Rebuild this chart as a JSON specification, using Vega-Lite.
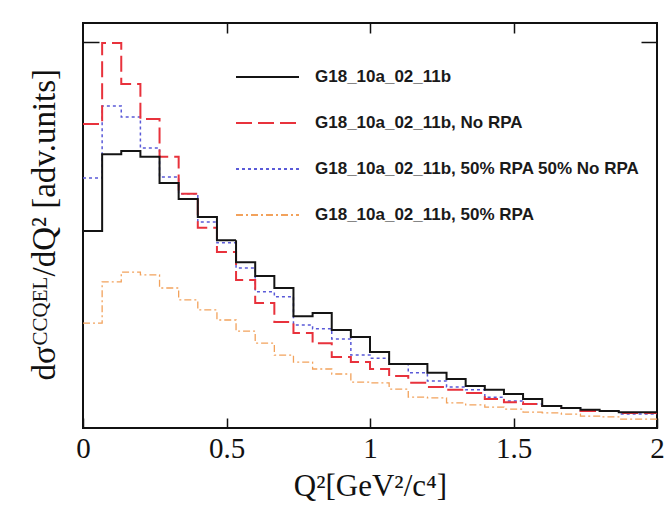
{
  "$schema": "https://vega.github.io/schema/vega-lite/v6.json",
  "width": 574,
  "height": 405,
  "autosize": "none",
  "padding": {"left": 83, "top": 23, "right": 15, "bottom": 80},
  "background": "white",
  "config": {
    "view": {"stroke": "#111111", "strokeWidth": 2},
    "axis": {"grid": false, "domain": false}
  },
  "datasets": {
    "hist": [
      {"series": "G18_10a_02_11b", "bin": 0, "lo": 0, "hi": 0.0667, "v": 0.511},
      {"series": "G18_10a_02_11b", "bin": 1, "lo": 0.0667, "hi": 0.1333, "v": 0.71},
      {"series": "G18_10a_02_11b", "bin": 2, "lo": 0.1333, "hi": 0.2, "v": 0.718},
      {"series": "G18_10a_02_11b", "bin": 3, "lo": 0.2, "hi": 0.2667, "v": 0.703},
      {"series": "G18_10a_02_11b", "bin": 4, "lo": 0.2667, "hi": 0.3333, "v": 0.635},
      {"series": "G18_10a_02_11b", "bin": 5, "lo": 0.3333, "hi": 0.4, "v": 0.594},
      {"series": "G18_10a_02_11b", "bin": 6, "lo": 0.4, "hi": 0.4667, "v": 0.547},
      {"series": "G18_10a_02_11b", "bin": 7, "lo": 0.4667, "hi": 0.5333, "v": 0.487},
      {"series": "G18_10a_02_11b", "bin": 8, "lo": 0.5333, "hi": 0.6, "v": 0.43},
      {"series": "G18_10a_02_11b", "bin": 9, "lo": 0.6, "hi": 0.6667, "v": 0.394},
      {"series": "G18_10a_02_11b", "bin": 10, "lo": 0.6667, "hi": 0.7333, "v": 0.363},
      {"series": "G18_10a_02_11b", "bin": 11, "lo": 0.7333, "hi": 0.8, "v": 0.29},
      {"series": "G18_10a_02_11b", "bin": 12, "lo": 0.8, "hi": 0.8667, "v": 0.298},
      {"series": "G18_10a_02_11b", "bin": 13, "lo": 0.8667, "hi": 0.9333, "v": 0.254},
      {"series": "G18_10a_02_11b", "bin": 14, "lo": 0.9333, "hi": 1, "v": 0.236},
      {"series": "G18_10a_02_11b", "bin": 15, "lo": 1, "hi": 1.0667, "v": 0.197},
      {"series": "G18_10a_02_11b", "bin": 16, "lo": 1.0667, "hi": 1.1333, "v": 0.166},
      {"series": "G18_10a_02_11b", "bin": 17, "lo": 1.1333, "hi": 1.2, "v": 0.166},
      {"series": "G18_10a_02_11b", "bin": 18, "lo": 1.2, "hi": 1.2667, "v": 0.143},
      {"series": "G18_10a_02_11b", "bin": 19, "lo": 1.2667, "hi": 1.3333, "v": 0.127},
      {"series": "G18_10a_02_11b", "bin": 20, "lo": 1.3333, "hi": 1.4, "v": 0.109},
      {"series": "G18_10a_02_11b", "bin": 21, "lo": 1.4, "hi": 1.4667, "v": 0.099},
      {"series": "G18_10a_02_11b", "bin": 22, "lo": 1.4667, "hi": 1.5333, "v": 0.088},
      {"series": "G18_10a_02_11b", "bin": 23, "lo": 1.5333, "hi": 1.6, "v": 0.075},
      {"series": "G18_10a_02_11b", "bin": 24, "lo": 1.6, "hi": 1.6667, "v": 0.057},
      {"series": "G18_10a_02_11b", "bin": 25, "lo": 1.6667, "hi": 1.7333, "v": 0.052},
      {"series": "G18_10a_02_11b", "bin": 26, "lo": 1.7333, "hi": 1.8, "v": 0.047},
      {"series": "G18_10a_02_11b", "bin": 27, "lo": 1.8, "hi": 1.8667, "v": 0.044},
      {"series": "G18_10a_02_11b", "bin": 28, "lo": 1.8667, "hi": 1.9333, "v": 0.041},
      {"series": "G18_10a_02_11b", "bin": 29, "lo": 1.9333, "hi": 2, "v": 0.041},

      {"series": "G18_10a_02_11b, No RPA", "bin": 0, "lo": 0, "hi": 0.0667, "v": 0.788},
      {"series": "G18_10a_02_11b, No RPA", "bin": 1, "lo": 0.0667, "hi": 0.1333, "v": 0.998},
      {"series": "G18_10a_02_11b, No RPA", "bin": 2, "lo": 0.1333, "hi": 0.2, "v": 0.892},
      {"series": "G18_10a_02_11b, No RPA", "bin": 3, "lo": 0.2, "hi": 0.2667, "v": 0.801},
      {"series": "G18_10a_02_11b, No RPA", "bin": 4, "lo": 0.2667, "hi": 0.3333, "v": 0.703},
      {"series": "G18_10a_02_11b, No RPA", "bin": 5, "lo": 0.3333, "hi": 0.4, "v": 0.607},
      {"series": "G18_10a_02_11b, No RPA", "bin": 6, "lo": 0.4, "hi": 0.4667, "v": 0.519},
      {"series": "G18_10a_02_11b, No RPA", "bin": 7, "lo": 0.4667, "hi": 0.5333, "v": 0.456},
      {"series": "G18_10a_02_11b, No RPA", "bin": 8, "lo": 0.5333, "hi": 0.6, "v": 0.384},
      {"series": "G18_10a_02_11b, No RPA", "bin": 9, "lo": 0.6, "hi": 0.6667, "v": 0.324},
      {"series": "G18_10a_02_11b, No RPA", "bin": 10, "lo": 0.6667, "hi": 0.7333, "v": 0.275},
      {"series": "G18_10a_02_11b, No RPA", "bin": 11, "lo": 0.7333, "hi": 0.8, "v": 0.246},
      {"series": "G18_10a_02_11b, No RPA", "bin": 12, "lo": 0.8, "hi": 0.8667, "v": 0.22},
      {"series": "G18_10a_02_11b, No RPA", "bin": 13, "lo": 0.8667, "hi": 0.9333, "v": 0.184},
      {"series": "G18_10a_02_11b, No RPA", "bin": 14, "lo": 0.9333, "hi": 1, "v": 0.171},
      {"series": "G18_10a_02_11b, No RPA", "bin": 15, "lo": 1, "hi": 1.0667, "v": 0.153},
      {"series": "G18_10a_02_11b, No RPA", "bin": 16, "lo": 1.0667, "hi": 1.1333, "v": 0.135},
      {"series": "G18_10a_02_11b, No RPA", "bin": 17, "lo": 1.1333, "hi": 1.2, "v": 0.117},
      {"series": "G18_10a_02_11b, No RPA", "bin": 18, "lo": 1.2, "hi": 1.2667, "v": 0.106},
      {"series": "G18_10a_02_11b, No RPA", "bin": 19, "lo": 1.2667, "hi": 1.3333, "v": 0.099},
      {"series": "G18_10a_02_11b, No RPA", "bin": 20, "lo": 1.3333, "hi": 1.4, "v": 0.091},
      {"series": "G18_10a_02_11b, No RPA", "bin": 21, "lo": 1.4, "hi": 1.4667, "v": 0.075},
      {"series": "G18_10a_02_11b, No RPA", "bin": 22, "lo": 1.4667, "hi": 1.5333, "v": 0.067},
      {"series": "G18_10a_02_11b, No RPA", "bin": 23, "lo": 1.5333, "hi": 1.6, "v": 0.062},
      {"series": "G18_10a_02_11b, No RPA", "bin": 24, "lo": 1.6, "hi": 1.6667, "v": 0.057},
      {"series": "G18_10a_02_11b, No RPA", "bin": 25, "lo": 1.6667, "hi": 1.7333, "v": 0.052},
      {"series": "G18_10a_02_11b, No RPA", "bin": 26, "lo": 1.7333, "hi": 1.8, "v": 0.044},
      {"series": "G18_10a_02_11b, No RPA", "bin": 27, "lo": 1.8, "hi": 1.8667, "v": 0.044},
      {"series": "G18_10a_02_11b, No RPA", "bin": 28, "lo": 1.8667, "hi": 1.9333, "v": 0.039},
      {"series": "G18_10a_02_11b, No RPA", "bin": 29, "lo": 1.9333, "hi": 2, "v": 0.039},

      {"series": "G18_10a_02_11b, 50% RPA 50% No RPA", "bin": 0, "lo": 0, "hi": 0.0667, "v": 0.648},
      {"series": "G18_10a_02_11b, 50% RPA 50% No RPA", "bin": 1, "lo": 0.0667, "hi": 0.1333, "v": 0.835},
      {"series": "G18_10a_02_11b, 50% RPA 50% No RPA", "bin": 2, "lo": 0.1333, "hi": 0.2, "v": 0.806},
      {"series": "G18_10a_02_11b, 50% RPA 50% No RPA", "bin": 3, "lo": 0.2, "hi": 0.2667, "v": 0.726},
      {"series": "G18_10a_02_11b, 50% RPA 50% No RPA", "bin": 4, "lo": 0.2667, "hi": 0.3333, "v": 0.651},
      {"series": "G18_10a_02_11b, 50% RPA 50% No RPA", "bin": 5, "lo": 0.3333, "hi": 0.4, "v": 0.607},
      {"series": "G18_10a_02_11b, 50% RPA 50% No RPA", "bin": 6, "lo": 0.4, "hi": 0.4667, "v": 0.534},
      {"series": "G18_10a_02_11b, 50% RPA 50% No RPA", "bin": 7, "lo": 0.4667, "hi": 0.5333, "v": 0.48},
      {"series": "G18_10a_02_11b, 50% RPA 50% No RPA", "bin": 8, "lo": 0.5333, "hi": 0.6, "v": 0.415},
      {"series": "G18_10a_02_11b, 50% RPA 50% No RPA", "bin": 9, "lo": 0.6, "hi": 0.6667, "v": 0.353},
      {"series": "G18_10a_02_11b, 50% RPA 50% No RPA", "bin": 10, "lo": 0.6667, "hi": 0.7333, "v": 0.34},
      {"series": "G18_10a_02_11b, 50% RPA 50% No RPA", "bin": 11, "lo": 0.7333, "hi": 0.8, "v": 0.267},
      {"series": "G18_10a_02_11b, 50% RPA 50% No RPA", "bin": 12, "lo": 0.8, "hi": 0.8667, "v": 0.257},
      {"series": "G18_10a_02_11b, 50% RPA 50% No RPA", "bin": 13, "lo": 0.8667, "hi": 0.9333, "v": 0.231},
      {"series": "G18_10a_02_11b, 50% RPA 50% No RPA", "bin": 14, "lo": 0.9333, "hi": 1, "v": 0.189},
      {"series": "G18_10a_02_11b, 50% RPA 50% No RPA", "bin": 15, "lo": 1, "hi": 1.0667, "v": 0.181},
      {"series": "G18_10a_02_11b, 50% RPA 50% No RPA", "bin": 16, "lo": 1.0667, "hi": 1.1333, "v": 0.166},
      {"series": "G18_10a_02_11b, 50% RPA 50% No RPA", "bin": 17, "lo": 1.1333, "hi": 1.2, "v": 0.143},
      {"series": "G18_10a_02_11b, 50% RPA 50% No RPA", "bin": 18, "lo": 1.2, "hi": 1.2667, "v": 0.122},
      {"series": "G18_10a_02_11b, 50% RPA 50% No RPA", "bin": 19, "lo": 1.2667, "hi": 1.3333, "v": 0.106},
      {"series": "G18_10a_02_11b, 50% RPA 50% No RPA", "bin": 20, "lo": 1.3333, "hi": 1.4, "v": 0.099},
      {"series": "G18_10a_02_11b, 50% RPA 50% No RPA", "bin": 21, "lo": 1.4, "hi": 1.4667, "v": 0.08},
      {"series": "G18_10a_02_11b, 50% RPA 50% No RPA", "bin": 22, "lo": 1.4667, "hi": 1.5333, "v": 0.07},
      {"series": "G18_10a_02_11b, 50% RPA 50% No RPA", "bin": 23, "lo": 1.5333, "hi": 1.6, "v": 0.062},
      {"series": "G18_10a_02_11b, 50% RPA 50% No RPA", "bin": 24, "lo": 1.6, "hi": 1.6667, "v": 0.057},
      {"series": "G18_10a_02_11b, 50% RPA 50% No RPA", "bin": 25, "lo": 1.6667, "hi": 1.7333, "v": 0.052},
      {"series": "G18_10a_02_11b, 50% RPA 50% No RPA", "bin": 26, "lo": 1.7333, "hi": 1.8, "v": 0.047},
      {"series": "G18_10a_02_11b, 50% RPA 50% No RPA", "bin": 27, "lo": 1.8, "hi": 1.8667, "v": 0.044},
      {"series": "G18_10a_02_11b, 50% RPA 50% No RPA", "bin": 28, "lo": 1.8667, "hi": 1.9333, "v": 0.036},
      {"series": "G18_10a_02_11b, 50% RPA 50% No RPA", "bin": 29, "lo": 1.9333, "hi": 2, "v": 0.036},

      {"series": "G18_10a_02_11b, 50% RPA", "bin": 0, "lo": 0, "hi": 0.0667, "v": 0.272},
      {"series": "G18_10a_02_11b, 50% RPA", "bin": 1, "lo": 0.0667, "hi": 0.1333, "v": 0.379},
      {"series": "G18_10a_02_11b, 50% RPA", "bin": 2, "lo": 0.1333, "hi": 0.2, "v": 0.404},
      {"series": "G18_10a_02_11b, 50% RPA", "bin": 3, "lo": 0.2, "hi": 0.2667, "v": 0.397},
      {"series": "G18_10a_02_11b, 50% RPA", "bin": 4, "lo": 0.2667, "hi": 0.3333, "v": 0.363},
      {"series": "G18_10a_02_11b, 50% RPA", "bin": 5, "lo": 0.3333, "hi": 0.4, "v": 0.332},
      {"series": "G18_10a_02_11b, 50% RPA", "bin": 6, "lo": 0.4, "hi": 0.4667, "v": 0.306},
      {"series": "G18_10a_02_11b, 50% RPA", "bin": 7, "lo": 0.4667, "hi": 0.5333, "v": 0.28},
      {"series": "G18_10a_02_11b, 50% RPA", "bin": 8, "lo": 0.5333, "hi": 0.6, "v": 0.251},
      {"series": "G18_10a_02_11b, 50% RPA", "bin": 9, "lo": 0.6, "hi": 0.6667, "v": 0.22},
      {"series": "G18_10a_02_11b, 50% RPA", "bin": 10, "lo": 0.6667, "hi": 0.7333, "v": 0.189},
      {"series": "G18_10a_02_11b, 50% RPA", "bin": 11, "lo": 0.7333, "hi": 0.8, "v": 0.171},
      {"series": "G18_10a_02_11b, 50% RPA", "bin": 12, "lo": 0.8, "hi": 0.8667, "v": 0.153},
      {"series": "G18_10a_02_11b, 50% RPA", "bin": 13, "lo": 0.8667, "hi": 0.9333, "v": 0.14},
      {"series": "G18_10a_02_11b, 50% RPA", "bin": 14, "lo": 0.9333, "hi": 1, "v": 0.119},
      {"series": "G18_10a_02_11b, 50% RPA", "bin": 15, "lo": 1, "hi": 1.0667, "v": 0.117},
      {"series": "G18_10a_02_11b, 50% RPA", "bin": 16, "lo": 1.0667, "hi": 1.1333, "v": 0.101},
      {"series": "G18_10a_02_11b, 50% RPA", "bin": 17, "lo": 1.1333, "hi": 1.2, "v": 0.08},
      {"series": "G18_10a_02_11b, 50% RPA", "bin": 18, "lo": 1.2, "hi": 1.2667, "v": 0.078},
      {"series": "G18_10a_02_11b, 50% RPA", "bin": 19, "lo": 1.2667, "hi": 1.3333, "v": 0.065},
      {"series": "G18_10a_02_11b, 50% RPA", "bin": 20, "lo": 1.3333, "hi": 1.4, "v": 0.06},
      {"series": "G18_10a_02_11b, 50% RPA", "bin": 21, "lo": 1.4, "hi": 1.4667, "v": 0.054},
      {"series": "G18_10a_02_11b, 50% RPA", "bin": 22, "lo": 1.4667, "hi": 1.5333, "v": 0.049},
      {"series": "G18_10a_02_11b, 50% RPA", "bin": 23, "lo": 1.5333, "hi": 1.6, "v": 0.041},
      {"series": "G18_10a_02_11b, 50% RPA", "bin": 24, "lo": 1.6, "hi": 1.6667, "v": 0.039},
      {"series": "G18_10a_02_11b, 50% RPA", "bin": 25, "lo": 1.6667, "hi": 1.7333, "v": 0.036},
      {"series": "G18_10a_02_11b, 50% RPA", "bin": 26, "lo": 1.7333, "hi": 1.8, "v": 0.031},
      {"series": "G18_10a_02_11b, 50% RPA", "bin": 27, "lo": 1.8, "hi": 1.8667, "v": 0.029},
      {"series": "G18_10a_02_11b, 50% RPA", "bin": 28, "lo": 1.8667, "hi": 1.9333, "v": 0.023},
      {"series": "G18_10a_02_11b, 50% RPA", "bin": 29, "lo": 1.9333, "hi": 2, "v": 0.023}
    ]
  },
  "data": {"name": "hist"},
  "transform": [{"fold": ["lo", "hi"], "as": ["edge", "q2"]}],
  "encoding": {
    "color": {
      "field": "series",
      "type": "nominal",
      "scale": {
        "domain": ["G18_10a_02_11b", "G18_10a_02_11b, No RPA", "G18_10a_02_11b, 50% RPA 50% No RPA", "G18_10a_02_11b, 50% RPA"],
        "range": ["#141414", "#e8323c", "#5a5ad8", "#f2a25c"]
      },
      "legend": {
        "orient": "none", "legendX": 152, "legendY": 44, "title": null, "padding": 0,
        "symbolType": "stroke", "symbolSize": 3969, "symbolStrokeWidth": 2,
        "labelFont": "Liberation Sans", "labelFontSize": 17, "labelFontWeight": "bold",
        "labelColor": "#1a1a1a", "labelOffset": 15, "labelLimit": 420,
        "rowPadding": 26, "clipHeight": 20
      }
    },
    "strokeDash": {
      "field": "series",
      "type": "nominal",
      "scale": {
        "domain": ["G18_10a_02_11b", "G18_10a_02_11b, No RPA", "G18_10a_02_11b, 50% RPA 50% No RPA", "G18_10a_02_11b, 50% RPA"],
        "range": [[1, 0], [16, 6], [3, 3], [7, 3, 2, 3]]
      },
      "legend": {
        "orient": "none", "legendX": 152, "legendY": 44, "title": null, "padding": 0,
        "symbolType": "stroke", "symbolSize": 3969, "symbolStrokeWidth": 2,
        "labelFont": "Liberation Sans", "labelFontSize": 17, "labelFontWeight": "bold",
        "labelColor": "#1a1a1a", "labelOffset": 15, "labelLimit": 420,
        "rowPadding": 26, "clipHeight": 20
      }
    },
    "order": [
      {"field": "q2", "type": "quantitative"},
      {"field": "bin", "type": "quantitative"}
    ]
  },
  "layer": [
    {
      "transform": [{"filter": {"field": "series", "equal": "G18_10a_02_11b, 50% RPA"}}],
      "mark": {"type": "line", "strokeWidth": 1.3},
      "encoding": {
        "x": {
          "field": "q2", "type": "quantitative",
          "scale": {"domain": [0, 2], "nice": false, "zero": false},
          "axis": {
            "orient": "bottom", "values": [0, 0.5, 1, 1.5, 2], "format": "~g",
            "tickSize": -10, "tickWidth": 1.5, "tickColor": "#111111",
            "labelFont": "Liberation Serif", "labelFontSize": 29, "labelColor": "#111111",
            "labelPadding": 16, "labelFlush": false, "labelOverlap": false,
            "title": "Q²[GeV²/c⁴]", "titleFont": "Liberation Serif", "titleFontSize": 31,
            "titleFontWeight": "normal", "titleColor": "#111111",
            "titleAlign": "center", "titleBaseline": "alphabetic", "titleX": 287, "titleY": 67
          }
        },
        "y": {
          "field": "v", "type": "quantitative",
          "scale": {"domain": [0, 1.05], "nice": false},
          "axis": {
            "orient": "left", "values": [1], "tickSize": -16, "tickWidth": 1.5, "tickColor": "#111111",
            "labels": false,
            "title": "dσ", "titleFont": "Liberation Serif", "titleFontSize": 33,
            "titleFontWeight": "normal", "titleColor": "#111111", "titleAngle": -90,
            "titleAlign": "left", "titleBaseline": "alphabetic", "titleX": -29, "titleY": 357
          }
        }
      }
    },
    {
      "transform": [{"filter": {"field": "series", "equal": "G18_10a_02_11b, 50% RPA 50% No RPA"}}],
      "mark": {"type": "line", "strokeWidth": 1.5},
      "encoding": {
        "x": {
          "field": "q2", "type": "quantitative",
          "scale": {"domain": [0, 2], "nice": false, "zero": false},
          "axis": {
            "orient": "top", "values": [0.5, 1, 1.5], "tickSize": -10, "tickWidth": 1.5,
            "tickColor": "#111111", "labels": false, "title": null
          }
        },
        "y": {
          "field": "v", "type": "quantitative",
          "scale": {"domain": [0, 1.05], "nice": false},
          "axis": {
            "orient": "right", "values": [1], "tickSize": -16, "tickWidth": 1.5,
            "tickColor": "#111111", "labels": false, "title": null
          }
        }
      }
    },
    {
      "transform": [{"filter": {"field": "series", "equal": "G18_10a_02_11b, No RPA"}}],
      "mark": {"type": "line", "strokeWidth": 2},
      "encoding": {
        "x": {
          "field": "q2", "type": "quantitative",
          "scale": {"domain": [0, 2], "nice": false, "zero": false},
          "axis": null
        },
        "y": {
          "field": "v", "type": "quantitative",
          "scale": {"domain": [0, 1.05], "nice": false},
          "axis": {
            "orient": "left", "ticks": false, "labels": false,
            "title": "CCQEL", "titleFont": "Liberation Serif", "titleFontSize": 21,
            "titleFontWeight": "normal", "titleColor": "#111111", "titleAngle": -90,
            "titleAlign": "left", "titleBaseline": "alphabetic", "titleX": -37, "titleY": 322
          }
        }
      }
    },
    {
      "transform": [{"filter": {"field": "series", "equal": "G18_10a_02_11b"}}],
      "mark": {"type": "line", "strokeWidth": 2},
      "encoding": {
        "x": {
          "field": "q2", "type": "quantitative",
          "scale": {"domain": [0, 2], "nice": false, "zero": false},
          "axis": null
        },
        "y": {
          "field": "v", "type": "quantitative",
          "scale": {"domain": [0, 1.05], "nice": false},
          "axis": {
            "orient": "left", "ticks": false, "labels": false,
            "title": "/dQ² [adv.units]", "titleFont": "Liberation Serif", "titleFontSize": 33,
            "titleFontWeight": "normal", "titleColor": "#111111", "titleAngle": -90,
            "titleAlign": "left", "titleBaseline": "alphabetic", "titleX": -29, "titleY": 253
          }
        }
      }
    }
  ],
  "resolve": {"axis": {"x": "independent", "y": "independent"}}
}
